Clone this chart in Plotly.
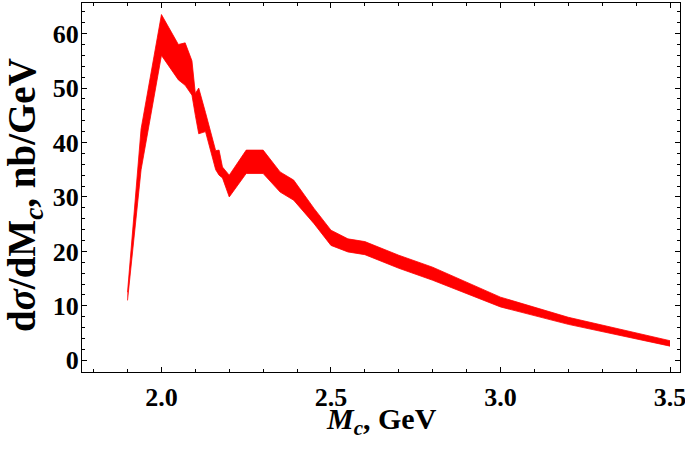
import plotly.graph_objects as go

# Data (band between lower and upper curves)
mc = [1.90, 1.94, 2.00, 2.05, 2.07, 2.09, 2.10, 2.11, 2.13, 2.16, 2.17, 2.18,
      2.20, 2.25, 2.30, 2.35, 2.39, 2.45, 2.50, 2.55, 2.60, 2.70, 2.80, 3.00,
      3.20, 3.50]
upper = [12.5, 42.5, 63.5, 58.0, 58.3, 55.0, 49.0, 50.0, 45.5, 38.5, 38.6, 35.5,
         34.0, 38.6, 38.6, 34.6, 33.1, 27.9, 23.9, 22.3, 21.8, 19.3, 17.1, 11.6,
         7.9, 3.6]
lower = [11.0, 35.0, 56.0, 51.5, 50.5, 48.7, 45.0, 41.6, 42.0, 35.0, 34.0, 33.5,
         30.0, 34.3, 34.3, 30.9, 29.4, 25.1, 21.1, 19.9, 19.4, 16.9, 14.7, 9.8,
         6.6, 2.6]

x_ticks = [2.0, 2.5, 3.0, 3.5]
x_ticklabels = ["2.0", "2.5", "3.0", "3.5"]
y_ticks = [0, 10, 20, 30, 40, 50, 60]
y_ticklabels = ["0", "10", "20", "30", "40", "50", "60"]

x_title = "<i>M<sub>c</sub></i>, GeV"
y_title = "d<i>σ</i>/dM<sub><i>c</i></sub>, nb/GeV"

RED = "#ff0000"
FONT = "Liberation Serif"

fig = go.Figure()
fig.add_trace(go.Scatter(x=mc, y=lower, mode="lines",
                         line=dict(color=RED, width=0.8), showlegend=False))
fig.add_trace(go.Scatter(x=mc, y=upper, mode="lines", fill="tonexty",
                         fillcolor=RED, line=dict(color=RED, width=0.8),
                         showlegend=False))

axis_common = dict(
    showline=True, linecolor="black", linewidth=1.3, mirror="allticks",
    ticks="inside", ticklen=5, tickwidth=1.2, tickcolor="black",
    showgrid=False, zeroline=False, ticklabeloverflow="allow",
    tickfont=dict(family=FONT, size=26, color="black", weight="bold"),
)

fig.update_xaxes(
    range=[1.7657, 3.5295], tickvals=x_ticks, ticktext=x_ticklabels,
    minor=dict(ticks="inside", ticklen=3, tickwidth=1, tickcolor="black", dtick=0.1, tick0=2.0),
    ticklabelstandoff=2,
    **axis_common,
)
fig.update_yaxes(
    range=[-2.15, 65.62], tickvals=y_ticks, ticktext=y_ticklabels,
    minor=dict(ticks="inside", ticklen=3, tickwidth=1, tickcolor="black", dtick=2, tick0=0),
    ticklabelstandoff=-3,
    **axis_common,
)

fig.add_annotation(text=x_title, xref="paper", yref="paper", x=0.5, y=-0.075,
                   xanchor="center", yanchor="top", showarrow=False,
                   font=dict(family=FONT, size=30, color="black", weight="bold"))
fig.add_annotation(text=y_title, xref="paper", yref="paper", x=-0.0953, y=0.48,
                   xanchor="center", yanchor="middle", textangle=-90, showarrow=False,
                   font=dict(family=FONT, size=39, color="black", weight="bold"))

fig.update_layout(
    width=685, height=449,
    margin=dict(l=82, r=5, t=3, b=77, autoexpand=False),
    plot_bgcolor="white", paper_bgcolor="white",
    font=dict(family=FONT, color="black"),
)

fig.write_html("out.html", config={"displayModeBar": False},
               post_script="document.body.style.margin='0';document.body.style.padding='0';")
